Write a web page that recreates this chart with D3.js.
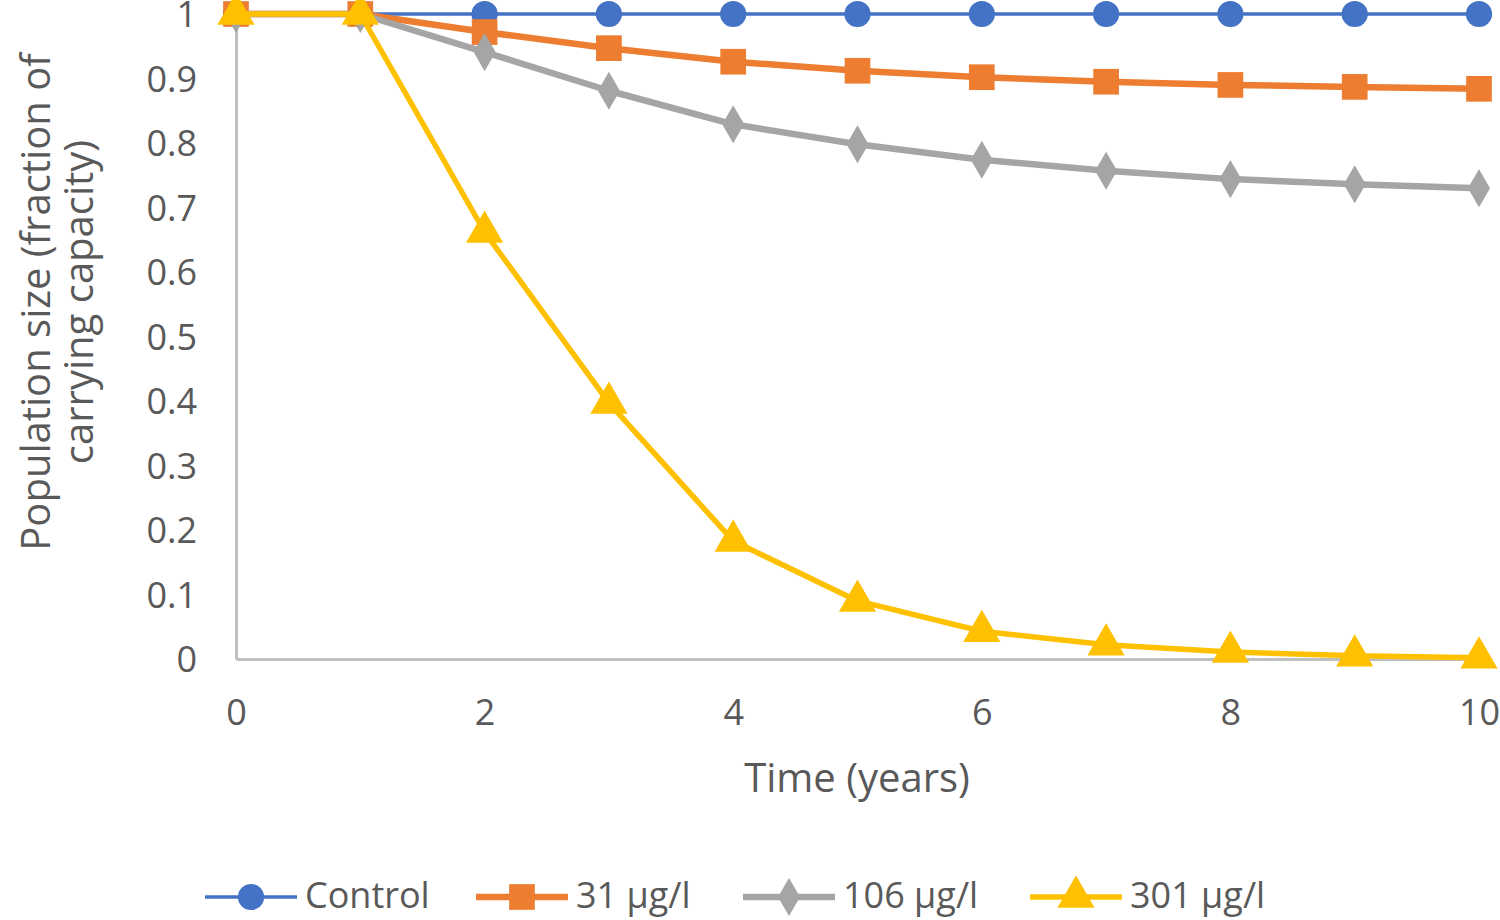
<!DOCTYPE html>
<html><head><meta charset="utf-8">
<script src="https://cdn.jsdelivr.net/npm/d3@7"></script>
<style>body{margin:0;background:#fff}svg{display:block}</style>
</head><body>
<svg id="c" width="1500" height="920"></svg>
<script>
const years = [0,1,2,3,4,5,6,7,8,9,10];
const control = [1,1,1,1,1,1,1,1,1,1,1];
const s31 = [1,1,0.972,0.947,0.926,0.912,0.902,0.895,0.890,0.887,0.884];
const s106 = [1,1,0.941,0.881,0.829,0.798,0.774,0.757,0.744,0.736,0.730];
const s301 = [1,1,0.662,0.397,0.183,0.090,0.043,0.022,0.011,0.005,0.002];
const seriesNames = ["Control","31 µg/l","106 µg/l","301 µg/l"];
const yTicks = [0,0.1,0.2,0.3,0.4,0.5,0.6,0.7,0.8,0.9,1];
const xTicks = [0,2,4,6,8,10];

const font = "'Open Sans', sans-serif";
const textColor = "#595959";
const svg = d3.select("#c");
const x = d3.scaleLinear().domain([0,10]).range([236,1479]);
const y = d3.scaleLinear().domain([0,1]).range([659,14]);

const series = [
  {name:seriesNames[0], vals:control, color:"#4472C4", width:3.5, sym:d3.symbolCircle, size:540},
  {name:seriesNames[1], vals:s31, color:"#ED7D31", width:6.5, sym:d3.symbolSquare, size:660},
  {name:seriesNames[2], vals:s106, color:"#A5A5A5", width:6.5, sym:d3.symbolDiamond, size:420},
  {name:seriesNames[3], vals:s301, color:"#FFC000", width:5.5, sym:d3.symbolTriangle, size:600}
];

// axes
const yAxis = svg.append("g").attr("transform","translate(236,0)")
  .call(d3.axisLeft(y).tickValues(yTicks).tickSize(0).tickPadding(39).tickFormat(d3.format("~g")));
const xAxis = svg.append("g").attr("transform","translate(0,659)")
  .call(d3.axisBottom(x).tickValues(xTicks).tickSize(0).tickPadding(40).tickFormat(d3.format("d")));
[yAxis,xAxis].forEach(a=>{
  a.select(".domain").attr("stroke","#BFBFBF").attr("stroke-width",3);
  a.selectAll("text").attr("font-family",font).attr("font-size",36).attr("fill",textColor);
});
yAxis.selectAll("text").attr("dy","0.36em");

// axis titles
svg.append("text").attr("x",857).attr("y",792).attr("text-anchor","middle")
  .attr("font-family",font).attr("font-size",40).attr("fill",textColor).text("Time (years)");
const yl = svg.append("text").attr("transform","translate(0,302) rotate(-90)")
  .attr("text-anchor","middle").attr("font-family",font).attr("font-size",40).attr("fill",textColor);
yl.append("tspan").attr("x",0).attr("y",50).text("Population size (fraction of");
yl.append("tspan").attr("x",0).attr("y",93).text("carrying capacity)");

// lines and markers
const line = d3.line().x((d,i)=>x(years[i])).y(d=>y(d));
series.forEach(s=>{
  svg.append("path").datum(s.vals).attr("d",line).attr("fill","none")
    .attr("stroke",s.color).attr("stroke-width",s.width).attr("stroke-linejoin","round");
  svg.append("g").selectAll("path").data(s.vals).join("path")
    .attr("transform",(d,i)=>`translate(${x(years[i])},${y(d)})`)
    .attr("d",d3.symbol().type(s.sym).size(s.size)).attr("fill",s.color);
});

// legend
const legX = [205,476,743,1030];
series.forEach((s,i)=>{
  const g = svg.append("g").attr("transform",`translate(${legX[i]},897)`);
  g.append("line").attr("x1",0).attr("x2",92).attr("stroke",s.color).attr("stroke-width",s.width);
  g.append("path").attr("transform","translate(46,0)").attr("d",d3.symbol().type(s.sym).size(s.size)).attr("fill",s.color);
  g.append("text").attr("x",100).attr("y",0).attr("dy","0.3em").attr("font-family",font)
    .attr("font-size",36).attr("fill",textColor).text(s.name);
});
</script>
</body></html>
